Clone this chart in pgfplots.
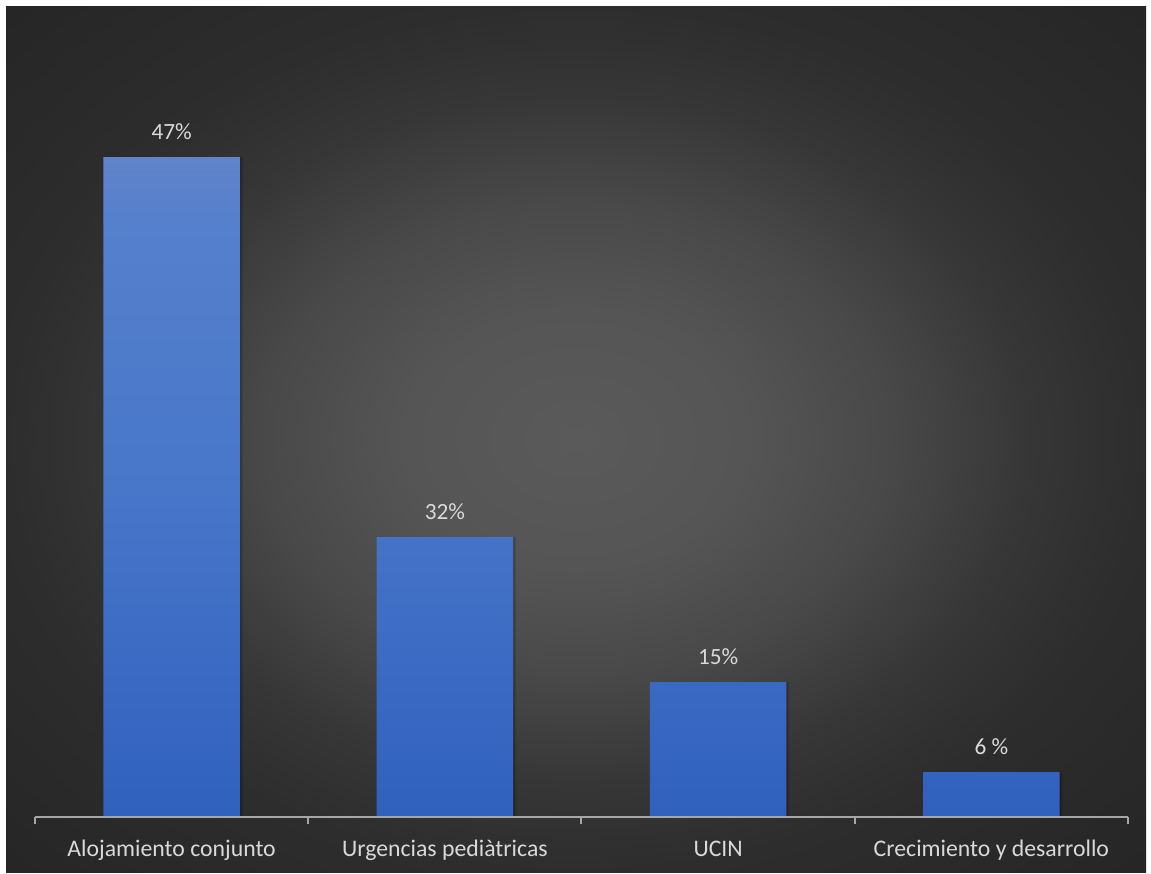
\documentclass[border=0pt]{standalone}
\usepackage{pgfplots}
\pgfplotsset{compat=1.18}
\usepackage{fontspec}
\setmainfont{Carlito}
\definecolor{bg0}{HTML}{5A5A5A}
\definecolor{bg1}{HTML}{555555}
\definecolor{bg2}{HTML}{484848}
\definecolor{bg3}{HTML}{363636}
\definecolor{bg4}{HTML}{2D2D2D}
\definecolor{bg5}{HTML}{262626}
\definecolor{bartop}{HTML}{6183CA}
\definecolor{barb}{HTML}{5580CC}
\definecolor{barmid}{HTML}{4876C9}
\definecolor{barlow}{HTML}{3A69C3}
\definecolor{barbot}{HTML}{2F61BD}
\definecolor{txt}{HTML}{D9D9D9}
\definecolor{axcol}{HTML}{A6A6A6}
\pgfdeclareradialshading{bgshade}{\pgfpoint{0bp}{0bp}}{color(0bp)=(bg0); color(7.5bp)=(bg1); color(14bp)=(bg2); color(20bp)=(bg3); color(25bp)=(bg4); color(35bp)=(bg5); color(50bp)=(bg5)}
\pgfdeclareverticalshading{barshade}{100bp}{color(0bp)=(barbot); color(25bp)=(barbot); color(35bp)=(barlow); color(50bp)=(barmid); color(70bp)=(barb); color(75bp)=(bartop); color(100bp)=(bartop)}
\begin{document}
\begin{tikzpicture}
\useasboundingbox (0,0) rectangle (460.4pt,349.2pt);
\fill[white] (0,0) rectangle (460.4pt,349.2pt);
\shade[shading=bgshade] (2.4pt,0.4pt) rectangle (458.4pt,346.8pt);
\begin{axis}[
  at={(14pt,22.4pt)}, anchor=south west,
  scale only axis, width=437.2pt, height=264pt,
  xmin=-0.5, xmax=3.5, ymin=0, ymax=47,
  axis x line*=bottom, axis y line=none,
  axis line style={draw=axcol, line width=0.8pt},
  xtick={0,1,2,3},
  xticklabels={Alojamiento conjunto, Urgencias pediàtricas, UCIN, Crecimiento y desarrollo},
  major tick length=0pt,
  minor xtick={-0.5,0.5,1.5,2.5,3.5},
  minor tick length=2.6pt,
  tick align=outside,
  minor tick style={draw=axcol, line width=0.8pt},
  xticklabel style={anchor=base, yshift=-15.6pt, text=txt, font=\fontsize{9.5}{11}\selectfont},
  /pgf/number format/assume math mode=true,
  clip=false,
  axis on top,
]
% soft shadows
\addplot[ybar, bar width=0.5, bar shift=0.011, draw=none, fill=black, fill opacity=0.10]
  coordinates {(0,47) (1,19.94) (2,9.61) (3,3.20)};
\addplot[ybar, bar width=0.5, bar shift=0.006, draw=none, fill=black, fill opacity=0.12]
  coordinates {(0,47) (1,19.94) (2,9.61) (3,3.20)};
\addplot[ybar, bar width=0.5, bar shift=0, draw=none, shade, shading=barshade,
  point meta=explicit symbolic,
  nodes near coords,
  every node near coord/.append style={anchor=base, inner sep=0pt, yshift=7.2pt, text=txt, font=\fontsize{9.3}{11}\selectfont}]
  coordinates {(0,47) [47\%] (1,19.94) [32\%] (2,9.61) [15\%] (3,3.20) [6 \%]};
\end{axis}
\end{tikzpicture}
\end{document}
